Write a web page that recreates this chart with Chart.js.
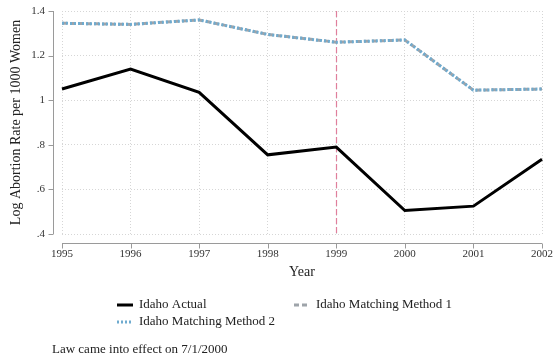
<!DOCTYPE html>
<html>
<head>
<meta charset="utf-8">
<script src="https://cdn.jsdelivr.net/npm/chart.js@4"></script>
<style>
  body { margin: 0; background: #fff; }
  canvas { display: block; }
</style>
</head>
<body>
<canvas id="abortionChart" width="557" height="364"></canvas>
<script>
const years = ['1995', '1996', '1997', '1998', '1999', '2000', '2001', '2002'];
const idahoActual = [1.05, 1.14, 1.035, 0.755, 0.79, 0.505, 0.525, 0.735];
const matchingMethod1 = [1.345, 1.34, 1.36, 1.295, 1.26, 1.27, 1.045, 1.05];
const matchingMethod2 = [1.345, 1.34, 1.36, 1.295, 1.26, 1.27, 1.045, 1.05];
const yTicks = [0.4, 0.6, 0.8, 1.0, 1.2, 1.4];
const lawLineYear = '1999';
const caption = 'Law came into effect on 7/1/2000';

const serif = '"Liberation Serif", "Times New Roman", serif';

function fmtTick(v) {
  let s = (+v).toFixed(1);
  if (s.endsWith('.0')) s = s.slice(0, -2);
  if (s.startsWith('0')) s = s.slice(1);
  return s;
}

// offset axis lines, the reform marker, legend and note
const extras = {
  id: 'extras',
  beforeDatasetsDraw(chart) {
    const { ctx, chartArea: a, scales: { x } } = chart;
    const px = Math.round(x.getPixelForValue(years.indexOf(lawLineYear))) + 0.5;
    ctx.save();
    ctx.strokeStyle = '#e07f9c';
    ctx.lineWidth = 1.2;
    ctx.setLineDash([6, 3]);
    ctx.beginPath();
    ctx.moveTo(px, a.top);
    ctx.lineTo(px, a.bottom);
    ctx.stroke();
    ctx.restore();
  },
  afterDraw(chart) {
    const { ctx, chartArea: a, scales: { x, y } } = chart;
    ctx.save();
    ctx.strokeStyle = '#9a9a9a';
    ctx.lineWidth = 1;
    // y axis
    const ax = a.left - 8.5;
    ctx.beginPath();
    ctx.moveTo(ax, a.top);
    ctx.lineTo(ax, a.bottom);
    y.ticks.forEach(t => {
      const py = Math.round(y.getPixelForValue(t.value)) + 0.5;
      ctx.moveTo(ax - 5, py);
      ctx.lineTo(ax, py);
    });
    // x axis
    const ay = a.bottom + 9.5;
    ctx.moveTo(a.left, ay);
    ctx.lineTo(a.right, ay);
    years.forEach((_, i) => {
      const px = Math.round(x.getPixelForValue(i)) + 0.5;
      ctx.moveTo(px, ay);
      ctx.lineTo(px, ay + 5);
    });
    ctx.stroke();

    // legend
    const ds = chart.data.datasets;
    const items = [
      { d: ds[0], x: 117, y: 305 },
      { d: ds[1], x: 294, y: 305 },
      { d: ds[2], x: 117, y: 322 }
    ];
    ctx.font = '13px ' + serif;
    ctx.textBaseline = 'middle';
    ctx.fillStyle = '#222';
    items.forEach(it => {
      ctx.save();
      ctx.strokeStyle = it.d.borderColor;
      ctx.lineWidth = it.d.borderWidth;
      ctx.setLineDash(it.d.borderDash || []);
      ctx.beginPath();
      ctx.moveTo(it.x, it.y);
      ctx.lineTo(it.x + 16, it.y);
      ctx.stroke();
      ctx.restore();
      ctx.fillText(it.d.label, it.x + 22, it.y);
    });
    ctx.fillText(caption, 52, 350);
    ctx.restore();
  }
};

new Chart(document.getElementById('abortionChart'), {
  type: 'line',
  data: {
    labels: years,
    datasets: [{
      label: 'Idaho Actual',
      data: idahoActual,
      borderColor: '#000',
      borderWidth: 3,
      pointRadius: 0,
      tension: 0,
      order: 3
    }, {
      label: 'Idaho Matching Method 1',
      data: matchingMethod1,
      borderColor: '#9ea4aa',
      borderWidth: 3,
      borderDash: [5, 3],
      pointRadius: 0,
      tension: 0,
      order: 2
    }, {
      label: 'Idaho Matching Method 2',
      data: matchingMethod2,
      borderColor: '#6fabcf',
      borderWidth: 3,
      borderDash: [2, 2],
      pointRadius: 0,
      tension: 0,
      order: 1
    }]
  },
  options: {
    responsive: false,
    animation: false,
    layout: { padding: { top: 11, right: 15, bottom: 79, left: 4 } },
    plugins: {
      legend: { display: false },
      tooltip: { enabled: false }
    },
    scales: {
      x: {
        offset: false,
        grid: { color: '#d6d6d6', drawTicks: false },
        border: { display: false, dash: [1, 2] },
        ticks: { padding: 14, color: '#333', font: { family: serif, size: 11 }, maxRotation: 0 },
        title: { display: true, text: 'Year', color: '#222', font: { family: serif, size: 14 }, padding: { top: 4, bottom: 4 } },
        afterFit: s => { s.height = 51; s.paddingLeft = 0; s.paddingRight = 0; }
      },
      y: {
        min: 0.4,
        max: 1.4,
        afterBuildTicks: s => { s.ticks = yTicks.map(v => ({ value: v })); },
        grid: { color: '#d6d6d6', drawTicks: false },
        border: { display: false, dash: [1, 2] },
        ticks: { padding: 17, color: '#333', font: { family: serif, size: 11 }, callback: fmtTick },
        title: { display: true, text: 'Log Abortion Rate per 1000 Women', color: '#222', font: { family: serif, size: 14 }, padding: { top: 4, bottom: 4 } },
        afterFit: s => { s.width = 58; s.paddingTop = 0; s.paddingBottom = 0; }
      }
    }
  },
  plugins: [extras]
});
</script>
</body>
</html>
